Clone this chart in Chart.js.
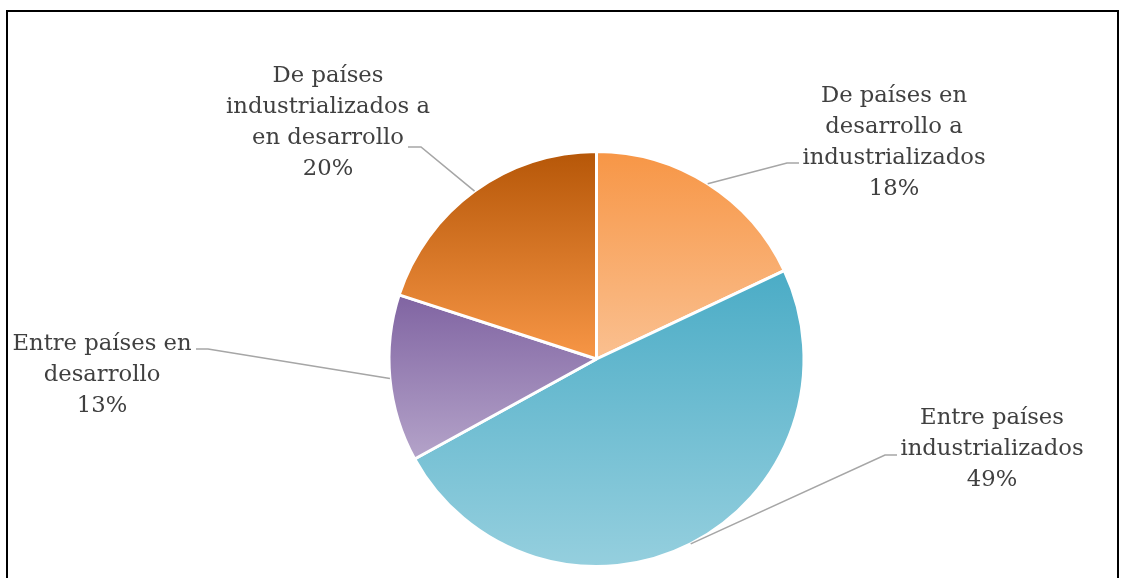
<!DOCTYPE html>
<html>
<head>
<meta charset="utf-8">
<script src="https://cdn.jsdelivr.net/npm/chart.js@4.4.0/dist/chart.umd.min.js"></script>
<style>
  html, body { margin: 0; padding: 0; background: #fff; }
  #wrap { position: relative; width: 1126px; height: 578px; overflow: hidden; }
  #frame { position: absolute; left: 6px; top: 10px; width: 1113px; height: 640px;
           box-sizing: border-box; border: 2px solid #000; }
  #pie { position: absolute; left: 0; top: 0; }
</style>
</head>
<body>
<div id="wrap">
  <div id="frame"></div>
  <canvas id="pie" width="1126" height="578"></canvas>
</div>
<script>
// ==== DATA ====
const categories = [
  ["De países en", "desarrollo a", "industrializados"],
  ["Entre países", "industrializados"],
  ["Entre países en", "desarrollo"],
  ["De países", "industrializados a", "en desarrollo"]
];
const shares = [18, 49, 13, 20];

// ==== STYLE ====
// vertical gradient per slice: [top, bottom]
const sliceGradients = [
  ["#f79646", "#fac090"],
  ["#4bacc6", "#95cfde"],
  ["#8064a2", "#b4a3c9"],
  ["#b65708", "#f79646"]
];
// where each label sits: leader elbow, end of the short flat part, text centre x, first baseline
const labelLayout = [
  { elbow: [787, 163], end: [799, 163], x: 894, y: 102 },
  { elbow: [885, 455], end: [897, 455], x: 992, y: 424 },
  { elbow: [208, 349], end: [196, 349], x: 102, y: 350 },
  { elbow: [421, 147], end: [408, 147], x: 328, y: 82 }
];
const LABEL_FONT = "22.7px 'DejaVu Serif'";
const LINE_HEIGHT = 31;

// paint each slice with its own top-to-bottom gradient
const gradientPlugin = {
  id: "sliceGradient",
  beforeDatasetsDraw(chart) {
    const ctx = chart.ctx;
    chart.getDatasetMeta(0).data.forEach((arc, i) => {
      const { x, y, startAngle, endAngle, outerRadius } = arc;
      let top = y, bottom = y;
      const steps = 60;
      for (let s = 0; s <= steps; s++) {
        const a = startAngle + (endAngle - startAngle) * s / steps;
        const py = y + outerRadius * Math.sin(a);
        top = Math.min(top, py);
        bottom = Math.max(bottom, py);
      }
      const g = ctx.createLinearGradient(0, top, 0, bottom);
      g.addColorStop(0, sliceGradients[i][0]);
      g.addColorStop(1, sliceGradients[i][1]);
      arc.options.backgroundColor = g;
    });
  }
};

// outside labels with leader lines
const labelPlugin = {
  id: "outsideLabels",
  afterDatasetsDraw(chart) {
    const ctx = chart.ctx;
    ctx.save();
    chart.getDatasetMeta(0).data.forEach((arc, i) => {
      const lay = labelLayout[i];
      const mid = (arc.startAngle + arc.endAngle) / 2;
      const ax = arc.x + arc.outerRadius * Math.cos(mid);
      const ay = arc.y + arc.outerRadius * Math.sin(mid);

      ctx.beginPath();
      ctx.moveTo(ax, ay);
      ctx.lineTo(lay.elbow[0], lay.elbow[1]);
      ctx.lineTo(lay.end[0], lay.end[1]);
      ctx.strokeStyle = "#a6a6a6";
      ctx.lineWidth = 1.6;
      ctx.stroke();

      const lines = categories[i].concat([shares[i] + "%"]);
      ctx.font = LABEL_FONT;
      ctx.fillStyle = "#404040";
      ctx.textAlign = "center";
      ctx.textBaseline = "alphabetic";
      lines.forEach((t, k) => {
        ctx.fillText(t, lay.x, lay.y + k * LINE_HEIGHT);
      });
    });
    ctx.restore();
  }
};

new Chart(document.getElementById("pie").getContext("2d"), {
  type: "pie",
  data: {
    labels: categories.map(c => c.join(" ")),
    datasets: [
      {
        data: shares,
        backgroundColor: sliceGradients.map(g => g[0]),
        borderColor: "#ffffff",
        borderWidth: 3
      }
    ]
  },
  options: {
    responsive: false,
    animation: false,
    layout: {
      padding: { top: 150, bottom: 10, left: 100, right: 33 }
    },
    plugins: {
      legend: { display: false },
      tooltip: { enabled: false }
    }
  },
  plugins: [gradientPlugin, labelPlugin]
});
</script>
</body>
</html>
